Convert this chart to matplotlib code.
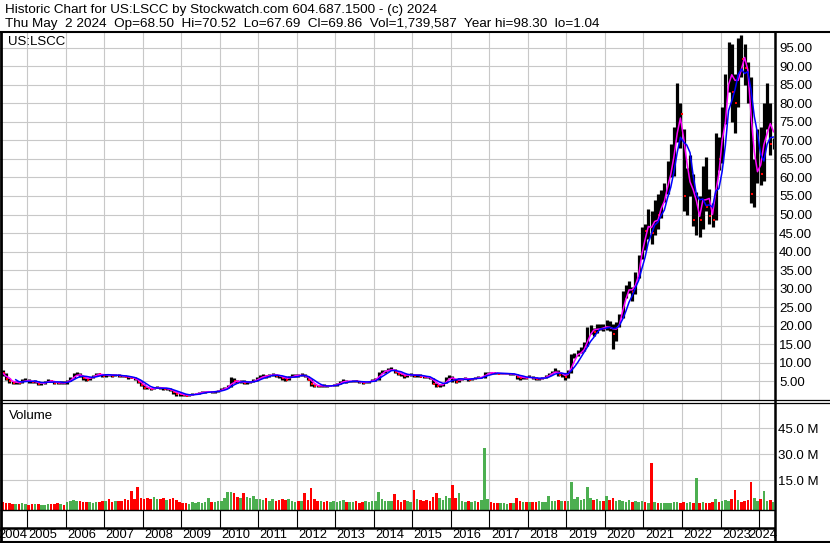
import numpy as np
import pandas as pd
import matplotlib
matplotlib.use("Agg")
import matplotlib.pyplot as plt
from matplotlib.lines import Line2D

W, H = 830, 543

# monthly bars, May 2004 .. May 2024 (one row per calendar year)
closes = [
    7.2, 5.6, 5.0, 4.6, 4.9, 4.6, 5.3, 5.4,
    5.0, 4.8, 5.1, 4.3, 4.4, 4.9, 5.3, 5.1, 4.6, 4.5, 4.8, 4.5,
    5.2, 5.9, 6.9, 7.1, 6.4, 5.9, 5.5, 6.1, 6.6, 7.1, 7.0, 6.5,
    6.8, 6.7, 6.6, 6.8, 6.5, 6.4, 6.3, 6.1, 6.0, 5.6, 4.8, 4.1,
    3.3, 3.1, 2.9, 3.3, 3.5, 3.2, 3.0, 3.0, 2.6, 2.1, 1.7, 1.5,
    1.4, 1.2, 1.3, 1.6, 1.8, 1.9, 2.2, 2.2, 2.3, 2.1, 2.3, 2.6,
    2.9, 3.4, 3.6, 5.5, 5.0, 4.9, 5.1, 4.5, 4.8, 4.9, 5.3, 5.8,
    6.3, 6.6, 6.4, 6.7, 7.1, 6.5, 6.4, 5.9, 5.5, 6.3, 6.6, 6.7,
    6.6, 6.7, 6.4, 5.5, 4.2, 3.8, 3.7, 3.9, 3.8, 3.7, 3.9, 4.0,
    4.5, 4.8, 5.4, 4.9, 5.0, 5.1, 5.0, 4.9, 4.6, 4.8, 5.1, 5.5,
    5.5, 7.4, 7.8, 7.8, 8.3, 8.3, 7.6, 7.0, 6.9, 6.4, 6.8, 6.9,
    6.5, 6.8, 6.3, 6.2, 6.1, 5.9, 4.4, 3.9, 3.9, 4.5, 5.9, 6.5,
    5.5, 4.9, 5.7, 5.8, 5.9, 5.4, 5.7, 6.1, 6.0, 6.1, 7.3, 7.4,
    7.3, 7.2, 7.1, 7.1, 7.1, 7.1, 7.0, 7.0, 6.2, 5.9, 6.2, 5.8,
    6.4, 5.8, 5.6, 5.8, 5.9, 6.5, 7.0, 7.6, 8.0, 6.8, 6.9, 6.2,
    7.6, 11.9, 11.9, 12.8, 13.2, 14.6, 18.8, 19.4, 18.3, 19.5, 19.6, 19.1,
    20.4, 19.3, 17.9, 20.1, 22.7, 28.9, 29.8, 30.3, 29.0, 33.5, 38.5, 45.8,
    45.5, 49.0, 45.0, 50.4, 50.0, 54.3, 56.3, 61.5, 64.6, 71.0, 80.0, 77.0,
    55.0, 60.5, 60.9, 48.5, 51.5, 48.5, 61.5, 52.0, 49.5, 48.5, 70.0, 65.0,
    75.0, 84.5, 95.5, 83.0, 80.0, 95.5, 92.0, 89.5, 85.5, 55.6, 60.0, 69.0,
    61.0, 76.5, 78.0, 69.0, 69.9,
]
highs = [
    8.0, 7.4, 5.8, 5.1, 5.1, 5.1, 5.6, 5.8,
    5.6, 5.2, 5.4, 5.2, 4.7, 5.1, 5.6, 5.5, 5.2, 4.8, 5.0, 5.0,
    5.5, 6.2, 7.3, 7.6, 7.3, 6.6, 6.0, 6.3, 6.8, 7.3, 7.4, 7.1,
    7.1, 7.1, 6.9, 7.0, 6.9, 6.8, 6.7, 6.4, 6.3, 6.2, 5.7, 5.0,
    4.2, 3.5, 3.3, 3.6, 3.8, 3.6, 3.3, 3.3, 3.1, 2.7, 2.2, 1.8,
    1.6, 1.5, 1.4, 1.8, 2.0, 2.1, 2.4, 2.4, 2.5, 2.4, 2.5, 2.8,
    3.1, 3.6, 4.0, 6.3, 6.0, 5.3, 5.5, 5.3, 5.0, 5.2, 5.6, 6.2,
    6.8, 7.0, 6.8, 7.0, 7.3, 7.1, 6.8, 6.5, 6.2, 6.6, 6.9, 7.0,
    7.1, 7.2, 7.0, 6.6, 5.6, 4.3, 4.0, 4.1, 4.2, 4.0, 4.1, 4.2,
    4.6, 5.0, 5.6, 5.5, 5.2, 5.3, 5.3, 5.1, 5.0, 4.9, 5.2, 5.7,
    5.8, 7.6, 8.2, 8.1, 8.6, 8.8, 8.4, 7.5, 7.3, 7.0, 7.0, 7.2,
    7.1, 7.0, 6.9, 6.5, 6.4, 6.3, 6.0, 4.5, 4.3, 4.6, 6.3, 6.8,
    6.5, 5.6, 5.8, 6.0, 6.1, 6.0, 5.9, 6.2, 6.4, 6.3, 7.5, 7.5,
    7.5, 7.4, 7.3, 7.2, 7.3, 7.3, 7.2, 7.2, 7.0, 6.3, 6.4, 6.3,
    6.8, 6.4, 6.1, 6.0, 6.2, 6.8, 7.3, 7.9, 8.5, 8.1, 7.3, 7.2,
    8.0, 12.5, 12.6, 13.5, 14.2, 15.6, 19.6, 20.3, 19.5, 20.5, 20.6, 20.4,
    21.5, 21.2, 20.5, 21.0, 23.3, 29.5, 31.0, 32.0, 30.5, 34.5, 39.0, 46.5,
    47.5, 51.5, 51.0, 54.0, 55.5, 56.5, 58.5, 64.5, 69.0, 73.5, 85.4, 80.0,
    73.0, 62.5, 66.0, 61.0, 56.0, 55.0, 63.0, 65.5, 57.0, 53.0, 72.0, 71.0,
    79.0, 88.0, 96.5, 96.0, 88.0, 97.5, 98.3, 96.0, 91.0, 87.0, 65.0, 73.0,
    73.5, 80.0, 85.5, 80.0, 70.5,
]
lows = [
    6.6, 5.4, 4.5, 4.2, 4.4, 4.3, 4.5, 5.0,
    4.6, 4.5, 4.6, 4.1, 4.0, 4.3, 4.8, 4.8, 4.4, 4.2, 4.3, 4.3,
    4.4, 5.1, 5.8, 6.7, 6.1, 5.5, 5.1, 5.4, 6.0, 6.5, 6.7, 6.3,
    6.3, 6.4, 6.2, 6.4, 6.3, 6.2, 6.1, 5.6, 5.8, 5.4, 4.5, 3.8,
    3.0, 2.9, 2.6, 2.9, 3.2, 3.0, 2.8, 2.8, 2.4, 1.6, 1.2, 1.2,
    1.1, 1.1, 1.04, 1.3, 1.6, 1.7, 1.8, 2.0, 2.1, 2.0, 2.0, 2.2,
    2.6, 2.9, 3.3, 3.5, 4.6, 4.5, 4.7, 4.3, 4.3, 4.6, 4.8, 5.2,
    5.8, 6.2, 5.9, 6.3, 6.6, 6.2, 6.0, 5.4, 5.2, 5.4, 6.1, 6.2,
    6.3, 6.4, 6.2, 5.3, 3.9, 3.6, 3.5, 3.6, 3.6, 3.4, 3.7, 3.8,
    3.9, 4.4, 4.8, 4.7, 4.8, 4.8, 4.8, 4.7, 4.4, 4.5, 4.7, 5.0,
    5.2, 5.5, 7.2, 7.2, 7.7, 8.0, 7.3, 6.8, 6.5, 6.0, 6.2, 6.5,
    6.2, 6.3, 6.2, 6.0, 5.8, 5.7, 4.2, 3.6, 3.5, 3.7, 4.5, 6.0,
    4.8, 4.6, 4.8, 5.5, 5.6, 5.2, 5.3, 5.6, 5.9, 5.8, 6.0, 7.2,
    7.2, 7.0, 7.0, 6.9, 7.0, 6.9, 6.8, 6.7, 5.6, 5.4, 5.6, 5.6,
    6.1, 5.6, 5.4, 5.4, 5.6, 5.9, 6.4, 7.0, 7.5, 6.4, 6.3, 5.4,
    6.0, 7.4, 11.2, 11.8, 12.6, 13.1, 14.6, 17.9, 17.2, 18.0, 19.0, 18.6,
    18.8, 18.6, 13.8, 16.0, 19.8, 22.0, 27.5, 28.8, 26.8, 28.5, 33.0, 38.0,
    40.5, 43.5, 42.0, 44.5, 46.0, 49.0, 53.5, 55.5, 60.0, 60.5, 69.5, 68.0,
    51.0, 50.0, 55.0, 47.0, 44.5, 44.0, 46.0, 51.0, 47.5, 46.5, 48.5, 62.0,
    64.0, 74.5, 83.0, 75.0, 72.0, 79.0, 87.0, 85.0, 80.0, 53.0, 52.0, 58.5,
    58.0, 59.0, 73.0, 66.0, 67.7,
]
# volume in millions
volumes = [
    2.5, 1.8, 1.5, 1.2, 1.0, 1.3, 1.4, 1.0,
    0.8, 0.9, 1.0, 1.2, 0.7, 0.8, 1.0, 1.1, 0.9, 1.8, 1.0, 0.8,
    2.5, 3.0, 3.5, 2.8, 2.6, 2.2, 2.5, 2.0, 1.8, 2.4, 2.2, 2.6,
    2.6, 3.8, 2.5, 2.8, 3.0, 2.6, 4.0, 3.5, 8.7, 4.0, 11.2, 4.5,
    4.0, 4.5, 3.8, 5.0, 4.2, 3.8, 4.5, 3.5, 3.8, 4.6, 3.2, 2.5,
    1.5, 1.8, 1.2, 2.2, 1.8, 2.0, 1.5, 2.5, 4.8, 2.0, 2.4, 3.0,
    3.0, 4.5, 8.0, 8.2, 7.5, 5.0, 4.5, 7.5, 5.0, 4.8, 5.5, 4.0,
    4.0, 3.5, 4.5, 3.0, 3.8, 2.8, 3.5, 4.2, 3.5, 4.0, 2.6, 2.4,
    2.8, 3.0, 7.4, 3.5, 10.6, 4.0, 3.0, 2.6, 2.2, 3.0, 2.5, 2.8,
    2.5, 3.0, 3.7, 2.2, 2.0, 2.4, 2.8, 1.8, 2.0, 3.0, 2.2, 2.6,
    3.0, 8.0, 4.0, 3.0, 2.8, 3.0, 7.0, 3.5, 2.5, 3.2, 2.8, 2.4,
    9.5, 4.0, 3.5, 3.0, 3.2, 2.8, 5.0, 7.4, 4.5, 3.5, 6.0, 4.5,
    12.2, 4.5, 7.4, 3.0, 2.5, 3.0, 2.2, 3.0, 2.5, 3.5, 33.5, 4.0,
    2.0, 1.5, 1.8, 1.5, 1.5, 1.2, 1.5, 1.8, 4.5, 3.0, 2.5, 2.2,
    2.0, 2.5, 2.2, 2.8, 2.0, 2.5, 5.6, 2.8, 3.0, 3.5, 3.0, 2.8,
    3.0, 13.7, 4.0, 5.2, 3.5, 4.0, 11.0, 4.5, 3.5, 4.0, 3.0, 2.8,
    6.0, 3.5, 4.5, 3.0, 3.5, 3.0, 2.5, 3.2, 2.2, 3.0, 2.5, 2.8,
    2.0, 1.8, 24.8, 2.0, 1.5, 1.8, 1.4, 1.6, 1.5, 2.0, 2.2, 1.8,
    2.0, 1.8, 2.2, 1.5, 16.0, 1.8, 2.0, 1.6, 1.5, 2.0, 4.1, 2.5,
    3.0, 3.5, 2.8, 4.0, 9.3, 3.2, 2.5, 3.0, 3.5, 13.8, 4.5, 3.0,
    4.0, 8.7, 3.0, 3.5, 2.0,
]

years = list(range(2004, 2025))
price_ticks = [5, 10, 15, 20, 25, 30, 35, 40, 45, 50, 55, 60, 65, 70, 75, 80, 85, 90, 95]
vol_ticks = [15, 30, 45]

header1 = "Historic Chart for US:LSCC by Stockwatch.com 604.687.1500 - (c) 2024"
header2 = ("Thu May  2 2024  Op=68.50  Hi=70.52  Lo=67.69  Cl=69.86  "
           "Vol=1,739,587  Year hi=98.30  lo=1.04")

df = pd.DataFrame({"close": closes, "high": highs, "low": lows, "vol": volumes})
df["t"] = 2004 + (4.5 + np.arange(len(df))) / 12.0
df["ma_short"] = df["close"].rolling(3, min_periods=1).mean()
df["ma_long"] = df["close"].rolling(5).mean()
df["down"] = df["close"].diff().fillna(-1) < 0

plt.rcParams["font.family"] = ["Liberation Sans", "DejaVu Sans"]
FS = 9.5
GRID = "#c8c8c8"
GREEN = "#4caf50"

fig = plt.figure(figsize=(W / 100, H / 100), dpi=100)

PX_PER_YEAR = 38.53
X0 = 2005 - 27 / PX_PER_YEAR
X1 = X0 + 774 / PX_PER_YEAR


def box(x0, y0, x1, y1):
    return [x0 / W, 1 - y1 / H, (x1 - x0) / W, (y1 - y0) / H]


def fline(x0, y0, x1, y1, lw):
    fig.add_artist(Line2D([x0 / W, x1 / W], [1 - y0 / H, 1 - y1 / H],
                          transform=fig.transFigure, color="black", lw=lw,
                          solid_capstyle="butt"))


ax_p = fig.add_axes(box(0, 32, 774, 400))
ax_v = fig.add_axes(box(0, 403, 774, 510))
ax_t = fig.add_axes(box(0, 510, 774, 541))

for ax in (ax_p, ax_v, ax_t):
    ax.set_xlim(X0, X1)
    for s in ax.spines.values():
        s.set_visible(False)
    ax.set_xticks([])
    ax.patch.set_alpha(0)

# price panel
ax_p.set_ylim(0, 368 / 3.71)
for y in price_ticks:
    ax_p.axhline(y, color=GRID, lw=0.8, zorder=0)
for yr in years:
    ax_p.axvline(yr, color=GRID, lw=0.8, zorder=0)
ax_p.vlines(df["t"], df["low"], df["high"], color="black", lw=2.3, zorder=2)
dn = df[df["down"]]
ax_p.plot(dn["t"] + 0.35 / 12, dn["close"], "s", color="red", ms=1.8, mew=0, zorder=3)
ax_p.plot(df["t"], df["ma_short"], color="#ff00ff", lw=1.1, zorder=4)
ax_p.plot(df["t"], df["ma_long"], color="#0000ff", lw=1.1, zorder=5)
ax_p.yaxis.tick_right()
ax_p.set_yticks(price_ticks)
ax_p.set_yticklabels([f"{v:.2f}" for v in price_ticks], fontsize=FS)
ax_p.tick_params(axis="y", length=0, pad=3.6)
ax_p.text(8 / 774, 1 - 13 / 368, "US:LSCC", transform=ax_p.transAxes,
          fontsize=FS, va="baseline", ha="left")

# volume panel
vmin = -4.1 / 1.723
ax_v.set_ylim(vmin, (505.9 - 403) / 1.723)
for y in vol_ticks:
    ax_v.axhline(y, color=GRID, lw=0.8, zorder=0)
for yr in years:
    ax_v.axvline(yr, color=GRID, lw=0.8, zorder=0)
vcol = np.where(df["down"], "red", GREEN)
ax_v.bar(df["t"], df["vol"] - vmin, bottom=vmin, width=0.8 / 12,
         color=vcol, zorder=2)
ax_v.yaxis.tick_right()
ax_v.set_yticks(vol_ticks)
ax_v.set_yticklabels([f"{v:.1f} M" for v in vol_ticks], fontsize=FS)
ax_v.tick_params(axis="y", length=0, pad=2.9)
ax_v.text(9 / 774, 1 - 16 / 107, "Volume", transform=ax_v.transAxes,
          fontsize=FS, va="baseline", ha="left")

# year row
ax_t.set_ylim(541, 510)
ax_t.set_yticks([])
ax_t.vlines(years[1:], 510, 527.5, color="black", lw=0.8)
px = 1 / PX_PER_YEAR
for yr in years:
    if yr == years[0]:
        xpos, ha = yr + 1, "right"
    elif yr == years[-1]:
        xpos, ha = X1 + 3 * px, "right"
    else:
        xpos, ha = yr + 1.5 * px, "left"
    ax_t.text(xpos, 534.5, str(yr), fontsize=9.3, ha=ha, va="center", clip_on=False)

# frame lines
fline(0, 31.5, W, 31.5, 1.5)
fline(1.3, 31, 1.3, 541, 2.0)
fline(774.8, 31, 774.8, H, 1.8)
fline(0, 400.3, W, 400.3, 0.9)
fline(0, 402.8, W, 402.8, 0.9)
fline(0, 510, 774.8, 510, 1.0)
fline(0, 527.5, 774.8, 527.5, 1.8)
fline(0, 541.5, W, 541.5, 1.5)

# header
fig.text(5 / W, 1 - 12.7 / H, header1, fontsize=9.7, va="baseline", ha="left")
fig.text(5 / W, 1 - 26.7 / H, header2, fontsize=9.7, va="baseline", ha="left")

fig.savefig("out.png", dpi=100, facecolor="white")
